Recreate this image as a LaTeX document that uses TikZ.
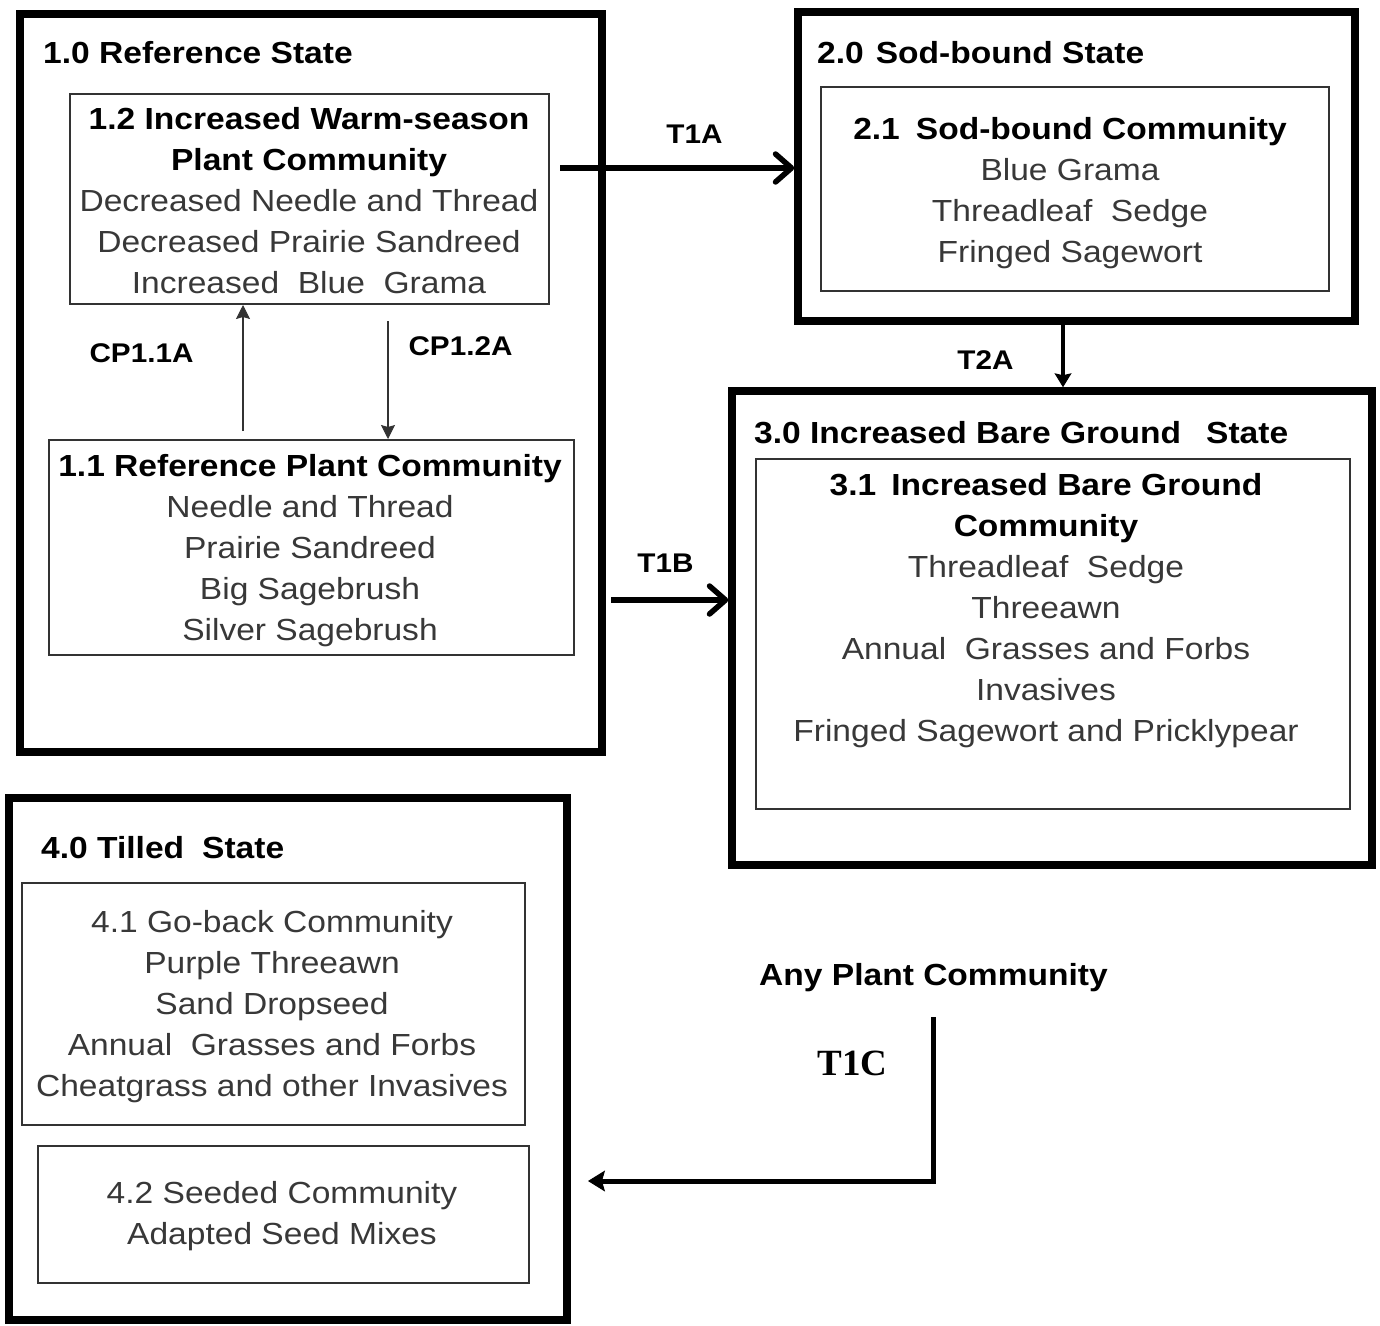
\documentclass[tikz,border=0pt]{standalone}
\usepackage{fontspec}
\setmainfont{Liberation Sans}[FakeStretch=1.1]
\newfontfamily\tnrfont{Liberation Serif}
\usetikzlibrary{arrows.meta}
\definecolor{txtg}{gray}{0.22}
\definecolor{boxg}{gray}{0.2}
\newcommand{\hdline}[1]{\textcolor{black}{\bfseries #1}}
\begin{document}
\begin{tikzpicture}[x=1pt,y=-1pt,
  outerbox/.style={draw=black, line width=7.5pt, inner sep=0pt},
  inbox/.style={draw=boxg, line width=2pt, inner sep=0pt},
  ttl/.style={font=\fontsize{30.5pt}{41pt}\selectfont\bfseries, anchor=base west, inner sep=0pt},
  body/.style={font=\fontsize{30.5pt}{41pt}\selectfont, align=center, inner sep=0pt, text=txtg},
  lbl/.style={font=\fontsize{27pt}{32pt}\selectfont\bfseries, anchor=base, inner sep=0pt},
  barbarrow/.style={line width=5.5pt, -{Straight Barb[length=16pt,width=28pt,round]}},
  solidarrow/.style={line width=5pt, line join=miter, -{Stealth[length=17pt,width=21pt,inset=3pt,line width=1pt]}},
  midarrow/.style={line width=4pt, -{Stealth[length=14pt,width=17pt,inset=2pt,line width=1pt]}},
  thinarrow/.style={line width=2pt, draw=boxg, -{Stealth[length=14pt,width=14pt,inset=2pt,line width=1pt]}}
]
\useasboundingbox (0,0) rectangle (1380,1325);

% state boxes
\node[outerbox, minimum width=582pt, minimum height=738pt] (s1) at (311,383) {};
\node[outerbox, minimum width=557pt, minimum height=309pt] (s2) at (1076.5,166.5) {};
\node[outerbox, minimum width=640pt, minimum height=474pt] (s3) at (1052,628) {};
\node[outerbox, minimum width=558pt, minimum height=522pt] (s4) at (288,1059) {};

% community boxes
\node[inbox, minimum width=479pt, minimum height=210pt] (b12) at (309.5,199) {};
\node[inbox, minimum width=525pt, minimum height=215pt] (b11) at (311.5,547.5) {};
\node[inbox, minimum width=508pt, minimum height=204pt] (b21) at (1075,189) {};
\node[inbox, minimum width=594pt, minimum height=350pt] (b31) at (1053,634) {};
\node[inbox, minimum width=503pt, minimum height=242pt] (b41) at (273.5,1004) {};
\node[inbox, minimum width=491pt, minimum height=137pt] (b42) at (283.5,1214.5) {};

% state titles
\node[ttl] (h1) at (43,63) {1.0 Reference State};
\node[ttl] (h2) at (817,63) {2.0\hspace{12pt}Sod-bound State};
\node[ttl] (h3) at (754,443) {3.0 Increased Bare Ground\hspace{25pt}State};
\node[ttl] (h4) at (41,858) {4.0 Tilled\hspace{18pt}State};

% community texts
\node[body] (t12) at (309,201) {\hdline{1.2 Increased Warm-season}\\\hdline{Plant Community}\\Decreased Needle and Thread\\Decreased Prairie Sandreed\\Increased\ \ Blue\ \ Grama};
\node[body] (t11) at (310,551) {\hdline{1.1 Reference Plant Community}\\Needle and Thread\\Prairie Sandreed\\Big Sagebrush\\Silver Sagebrush};
\node[body] (t21) at (1070,193) {\hdline{2.1\hspace{16pt}Sod-bound Community}\\Blue Grama\\Threadleaf\ \ Sedge\\Fringed Sagewort};
\node[body] (t31) at (1046,611) {\hdline{3.1\hspace{15pt}Increased Bare Ground}\\\hdline{Community}\\Threadleaf\ \ Sedge\\Threeawn\\Annual\ \ Grasses and Forbs\\Invasives\\Fringed Sagewort and Pricklypear};
\node[body] (t41) at (272,1006.5) {4.1 Go-back Community\\Purple Threeawn\\Sand Dropseed\\Annual\ \ Grasses and Forbs\\Cheatgrass and other Invasives};
\node[body] (t42) at (282,1216) {4.2 Seeded Community\\Adapted Seed Mixes};

% transition labels
\node[lbl] (l1) at (141.5,362) {CP1.1A};
\node[lbl] (l2) at (460.5,355) {CP1.2A};
\node[lbl] (l3) at (694.5,143) {T1A};
\node[lbl] (l4) at (665.5,572) {T1B};
\node[lbl] (l5) at (985.5,369) {T2A};
\node[anchor=base, inner sep=0pt, font=\fontsize{37pt}{40pt}\selectfont\tnrfont\bfseries] (l6) at (852.5,1075) {T1C};
\node[ttl, anchor=base] (apc) at (933.5,985) {Any Plant Community};

% connector endpoints
\coordinate (c1s) at (243,431);
\coordinate (c2s) at (388,321);
\coordinate (a1s) at (560,168);
\coordinate (b1s) at (611,600);
\coordinate (t2x) at (1063,0);
\coordinate (t1cs) at (933,1017);
\coordinate (t1ce) at (588,1181);

% connectors
\draw[thinarrow] (c1s) -- (c1s |- b12.south);
\draw[thinarrow] (c2s) -- (c2s |- b11.north);
\draw[barbarrow] (a1s) -- (a1s -| s2.west);
\draw[barbarrow] (b1s) -- (b1s -| s3.west);
\draw[midarrow] (t2x |- s2.south) -- (t2x |- s3.north);
\draw[solidarrow] (t1cs) |- (t1ce);
\end{tikzpicture}
\end{document}
